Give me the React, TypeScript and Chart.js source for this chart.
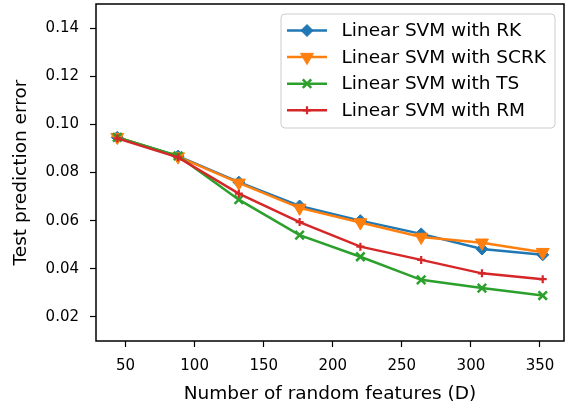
import React, { useEffect, useRef } from 'react';
import { Chart, registerables } from 'chart.js';

Chart.register(...registerables);

const xValues = [44, 88, 132, 176, 220, 264, 308, 352];
const rkValues = [0.0946, 0.0868, 0.0760, 0.0661, 0.0600, 0.0545, 0.0482, 0.0458];
const scrkValues = [0.0947, 0.0866, 0.0757, 0.0653, 0.0592, 0.0532, 0.0508, 0.0469];
const tsValues = [0.0946, 0.0869, 0.0687, 0.0540, 0.0450, 0.0354, 0.0320, 0.0289];
const rmValues = [0.0942, 0.0863, 0.0712, 0.0594, 0.0492, 0.0437, 0.0381, 0.0357];
const xTicks = [50, 100, 150, 200, 250, 300, 350];
const yTicks = [0.02, 0.04, 0.06, 0.08, 0.1, 0.12, 0.14];
const seriesLabels = ['Linear SVM with RK', 'Linear SVM with SCRK', 'Linear SVM with TS', 'Linear SVM with RM'];
const seriesColors = ['#1f77b4', '#ff7f0e', '#2ca02c', '#d62728'];

const FONT = 'DejaVu Sans';

type MarkerSpec = { style: string; radius: number; rotation: number; border: number };
const markers: MarkerSpec[] = [
  { style: 'rectRot', radius: 6, rotation: 0, border: 1 },
  { style: 'triangle', radius: 7.5, rotation: 180, border: 1 },
  { style: 'crossRot', radius: 6, rotation: 0, border: 2.5 },
  { style: 'cross', radius: 4, rotation: 0, border: 2.2 },
];

function drawMarker(ctx: CanvasRenderingContext2D, m: MarkerSpec, color: string, x: number, y: number) {
  const r = m.radius;
  ctx.save();
  ctx.fillStyle = color;
  ctx.strokeStyle = color;
  ctx.lineWidth = m.border;
  ctx.beginPath();
  if (m.style === 'rectRot') {
    ctx.moveTo(x - r, y);
    ctx.lineTo(x, y - r);
    ctx.lineTo(x + r, y);
    ctx.lineTo(x, y + r);
    ctx.closePath();
    ctx.fill();
    ctx.stroke();
  } else if (m.style === 'triangle') {
    const a0 = Math.PI / 2;
    for (let k = 0; k < 3; k++) {
      const a = a0 + (k * 2 * Math.PI) / 3;
      const px = x + Math.cos(a) * r;
      const py = y + Math.sin(a) * r;
      if (k === 0) ctx.moveTo(px, py);
      else ctx.lineTo(px, py);
    }
    ctx.closePath();
    ctx.fill();
    ctx.stroke();
  } else if (m.style === 'crossRot') {
    const d = r * Math.SQRT1_2;
    ctx.moveTo(x - d, y - d);
    ctx.lineTo(x + d, y + d);
    ctx.moveTo(x + d, y - d);
    ctx.lineTo(x - d, y + d);
    ctx.stroke();
  } else {
    ctx.moveTo(x - r, y);
    ctx.lineTo(x + r, y);
    ctx.moveTo(x, y - r);
    ctx.lineTo(x, y + r);
    ctx.stroke();
  }
  ctx.restore();
}

const framePlugin = {
  id: 'frame',
  afterDatasetsDraw(chart: any) {
    const { ctx, chartArea } = chart;
    ctx.save();
    ctx.strokeStyle = '#000';
    ctx.lineWidth = 1.5;
    ctx.strokeRect(chartArea.left, chartArea.top, chartArea.right - chartArea.left, chartArea.bottom - chartArea.top);
    ctx.restore();
  },
};

const legendPlugin = {
  id: 'mplLegend',
  afterDraw(chart: any) {
    const { ctx } = chart;
    ctx.save();
    const bx = 281, by = 14, bw = 274, bh = 114;
    ctx.beginPath();
    if ((ctx as any).roundRect) (ctx as any).roundRect(bx, by, bw, bh, 4);
    else ctx.rect(bx, by, bw, bh);
    ctx.fillStyle = 'rgba(255,255,255,0.8)';
    ctx.fill();
    ctx.strokeStyle = '#cccccc';
    ctx.lineWidth = 1;
    ctx.stroke();
    seriesLabels.forEach((label, i) => {
      const baseline = 36 + i * 26.6;
      const ly = baseline - 5.5;
      ctx.strokeStyle = seriesColors[i];
      ctx.lineWidth = 2.5;
      ctx.beginPath();
      ctx.moveTo(287, ly);
      ctx.lineTo(327, ly);
      ctx.stroke();
      drawMarker(ctx, markers[i], seriesColors[i], 307, ly);
      ctx.fillStyle = '#000';
      ctx.font = `18.5px "${FONT}"`;
      ctx.textAlign = 'left';
      ctx.textBaseline = 'alphabetic';
      ctx.fillText(label, 341.5, baseline);
    });
    ctx.restore();
  },
};

export default function App() {
  const canvasRef = useRef<HTMLCanvasElement | null>(null);

  useEffect(() => {
    if (!canvasRef.current) return;
    const valueSets = [rkValues, scrkValues, tsValues, rmValues];
    const datasets = valueSets.map((vals, i) => ({
      label: seriesLabels[i],
      data: xValues.map((x, j) => ({ x, y: vals[j] })),
      borderColor: seriesColors[i],
      backgroundColor: seriesColors[i],
      borderWidth: 2.5,
      pointStyle: markers[i].style as any,
      pointRadius: markers[i].radius,
      pointRotation: markers[i].rotation,
      pointBorderWidth: markers[i].border,
      pointBorderColor: seriesColors[i],
      pointBackgroundColor: seriesColors[i],
      tension: 0,
      fill: false,
      order: 4 - i,
    }));

    const tickFont = { family: FONT, size: 15 };
    const chart = new Chart(canvasRef.current, {
      type: 'line',
      data: { datasets },
      options: {
        animation: false,
        responsive: false,
        maintainAspectRatio: false,
        layout: { autoPadding: false, padding: { top: 4, right: 6, left: 0, bottom: 0 } },
        plugins: { legend: { display: false }, tooltip: { enabled: false } },
        scales: {
          x: {
            type: 'linear',
            min: 28.6,
            max: 367.4,
            afterBuildTicks: (s: any) => { s.ticks = xTicks.map((v) => ({ value: v })); },
            afterFit: (s: any) => { s.height = 68; s.paddingLeft = 0; s.paddingRight = 0; },
            ticks: { font: tickFont, color: '#000', padding: 10, maxRotation: 0, autoSkip: false, callback: (v: any) => String(v) },
            grid: { drawOnChartArea: false, drawTicks: true, tickLength: 6, tickWidth: 1.2, tickColor: '#000', color: '#000' },
            border: { display: false },
            title: { display: true, text: 'Number of random features (D)', color: '#000', font: { family: FONT, size: 18.5 }, padding: { top: 0, bottom: 4 } },
          },
          y: {
            type: 'linear',
            min: 0.01,
            max: 0.15,
            afterBuildTicks: (s: any) => { s.ticks = yTicks.map((v) => ({ value: v })); },
            afterFit: (s: any) => { s.width = 96; s.paddingTop = 0; s.paddingBottom = 0; },
            ticks: { font: tickFont, color: '#000', padding: 11, autoSkip: false, callback: (v: any) => Number(v).toFixed(2) },
            grid: { drawOnChartArea: false, drawTicks: true, tickLength: 6, tickWidth: 1.2, tickColor: '#000', color: '#000' },
            border: { display: false },
            title: { display: true, text: 'Test prediction error', color: '#000', font: { family: FONT, size: 18.5 }, padding: { top: 10.5, bottom: 0 } },
          },
        },
      },
      plugins: [framePlugin, legendPlugin],
    } as any);
    return () => chart.destroy();
  }, []);

  return (
    <div style={{ position: 'absolute', left: 0, top: 0, width: 570, height: 409, background: '#fff' }}>
      <canvas ref={canvasRef} width={570} height={409} />
    </div>
  );
}
